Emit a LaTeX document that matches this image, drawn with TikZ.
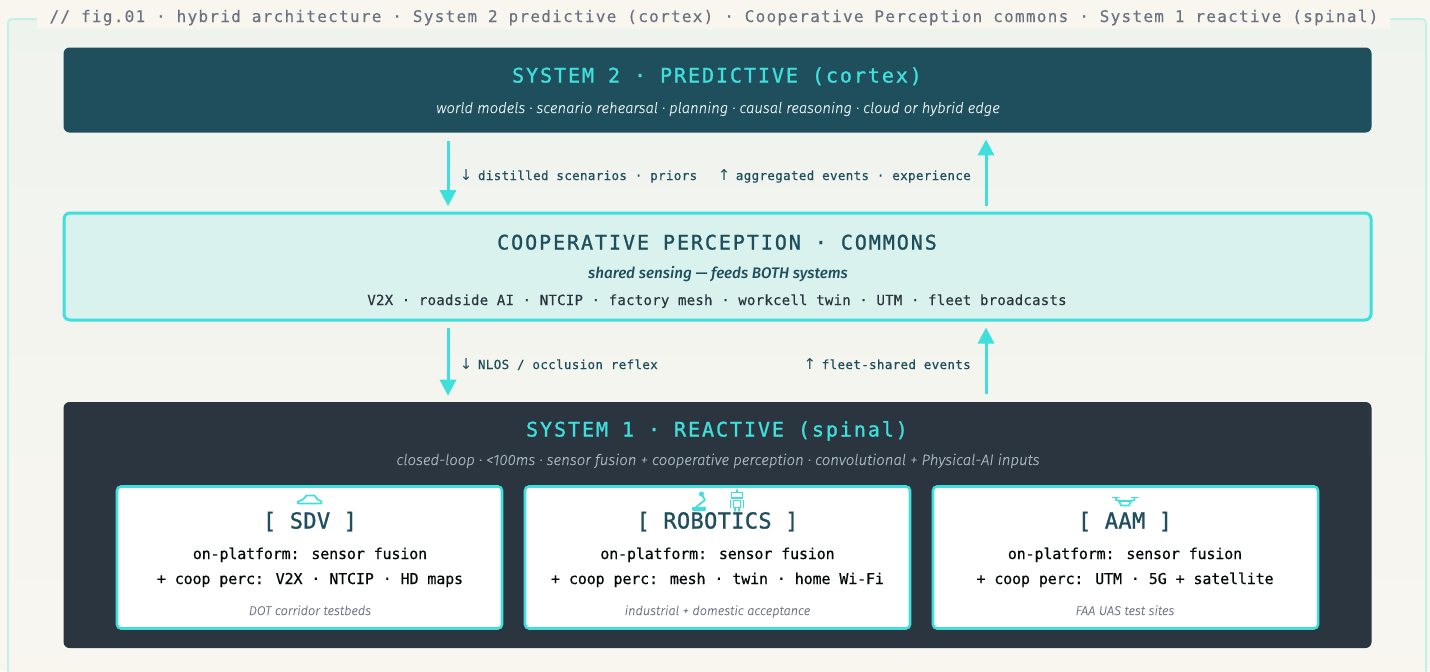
\documentclass[tikz,border=0pt]{standalone}
\usepackage{fontspec}
\usetikzlibrary{arrows.meta,calc}
\setmainfont{Fira Sans}
\newfontfamily\ftitle[LetterSpace=8.0,FakeBold=0.25]{DejaVu Sans Mono}
\newfontfamily\fhead[LetterSpace=9.7,FakeBold=1.2]{DejaVu Sans Mono}
\newfontfamily\fcard[LetterSpace=1.5,FakeBold=1.2]{DejaVu Sans Mono}
\newfontfamily\fbody[LetterSpace=1.85,FakeBold=0.45]{DejaVu Sans Mono}
\newfontfamily\flab[LetterSpace=2.8,FakeBold=0.45]{DejaVu Sans Mono}
\newfontfamily\fcb[LetterSpace=-1,FakeBold=0.5]{DejaVu Sans Mono}
\newfontfamily\farr{DejaVu Sans}
\newfontfamily\fit[FakeBold=0.15]{Fira Sans Light Italic}
\newfontfamily\fitb{Fira Sans Medium Italic}
\definecolor{cyanx}{HTML}{3FE0DC}
\definecolor{navy}{HTML}{1F4E5C}
\definecolor{slatex}{HTML}{2A3540}
\definecolor{mintx}{HTML}{D9F2EE}
\definecolor{creamx}{HTML}{F9F6F0}
\definecolor{frametop}{HTML}{EFF3EE}
\definecolor{framelin}{HTML}{C4F0EC}
\definecolor{greyt}{HTML}{6B7280}
\definecolor{paleit}{HTML}{E6F2F2}
\definecolor{dimit}{HTML}{A9B8C0}
\definecolor{cardit}{HTML}{6B7280}
\newdimen\px \px=0.75pt
\newcommand{\fs}[1]{\fontsize{#1\px}{#1\px}\selectfont}
\newcommand{\arr}[1]{\makebox[7.87\px][c]{\farr\fs{15}#1}}
\tikzset{
  x=0.75pt,y=-0.75pt,
  panel/.style={draw=none,rounded corners=4.5pt,inner sep=0pt,minimum width=981pt},
  card/.style={draw=cyanx,line width=1.9pt,fill=white,rounded corners=3pt,inner sep=0pt,minimum width=288.75pt,minimum height=106.5pt},
  txt/.style={inner sep=0pt,anchor=base},
  flow/.style={draw=cyanx,line width=2.25pt,-{Triangle[length=12pt,width=12pt]}},
  icon/.style={draw=cyanx,line width=1.3pt,line join=round,line cap=round},
}
\begin{document}
\begin{tikzpicture}
\useasboundingbox (0,0) rectangle (1430,671);
\fill[creamx] (0,0) rectangle (1430,671);
% outer frame
\shade[top color=frametop,bottom color=creamx,draw=framelin,line width=1.5pt,rounded corners=3pt] (8,19) rectangle (1426,690);
\fill[creamx] (37,0) rectangle (1390,29);
\node[txt,text=greyt] (title) at (714,22) {\ftitle\fs{16}// fig.01 · hybrid architecture · System 2 predictive (cortex) · Cooperative Perception commons · System 1 reactive (spinal)};
% panels
\node[panel,fill=navy,minimum height=63.75pt] (sys2) at (717.5,90) {};
\node[panel,draw=cyanx,line width=2.25pt,fill=mintx,minimum width=980.25pt,minimum height=80.25pt] (commons) at (717.5,266.5) {};
\node[panel,fill=slatex,minimum height=184.5pt] (sys1) at (717.5,525) {};
% guides for connectors
\coordinate (xl) at (448,0);
\coordinate (xr) at (986,0);
\draw[flow,shorten <=6pt,shorten >=4pt] (sys2.south -| xl) -- (commons.north -| xl);
\draw[flow,shorten <=4.5pt,shorten >=5pt] (commons.north -| xr) -- (sys2.south -| xr);
\draw[flow,shorten <=5pt,shorten >=4.5pt] (commons.south -| xl) -- (sys1.north -| xl);
\draw[flow,shorten <=6pt,shorten >=4.5pt] (sys1.north -| xr) -- (commons.south -| xr);
% system 2 text
\node[txt,text=cyanx] (s2t) at (717,82.5) {\fhead\fs{20}SYSTEM 2 · PREDICTIVE (cortex)};
\node[txt,text=paleit] (s2s) at (718,113) {\fit\fs{14.8}world models · scenario rehearsal · planning · causal reasoning · cloud or hybrid edge};
% labels
\node[txt,anchor=base west,text=navy] (l1) at (462,180) {\arr{↓}\flab\fs{12.5} distilled scenarios · priors};
\node[txt,anchor=base east,text=navy] (l2) at (971,180) {\arr{↑}\flab\fs{12.5} aggregated events · experience};
\node[txt,anchor=base west,text=navy] (l3) at (462,369) {\arr{↓}\flab\fs{12.5} NLOS / occlusion reflex};
\node[txt,anchor=base east,text=navy] (l4) at (971,369) {\arr{↑}\flab\fs{12.5} fleet-shared events};
% commons text
\node[txt,text=navy] (ct) at (717,249.5) {\fhead\fs{20}COOPERATIVE PERCEPTION · COMMONS};
\node[txt,text=navy] (cs) at (718,278) {\fitb\fs{15.3}shared sensing — feeds BOTH systems};
\node[txt,text=slatex] (cb) at (717,305) {\fbody\fs{14}V2X · roadside AI · NTCIP · factory mesh · workcell twin · UTM · fleet broadcasts};
% system 1 text
\node[txt,text=cyanx] (s1t) at (717,436.5) {\fhead\fs{20}SYSTEM 1 · REACTIVE (spinal)};
\node[txt,text=dimit] (s1s) at (718,465) {\fit\fs{14.95}closed-loop · <100ms · sensor fusion + cooperative perception · convolutional + Physical-AI inputs};
% cards
\node[card] (c1) at (309.5,557.5) {};
\node[card] (c2) at (717.5,557.5) {};
\node[card] (c3) at (1125.5,557.5) {};
\foreach \n/\cx/\tt/\ll/\ft in {
  a/310/{[ SDV ]}/{+ coop perc: V2X · NTCIP · HD maps}/{DOT corridor testbeds},
  b/717.5/{[ ROBOTICS ]}/{+ coop perc: mesh · twin · home Wi-Fi}/{industrial + domestic acceptance},
  c/1125/{[ AAM ]}/{+ coop perc: UTM · 5G + satellite}/{FAA UAS test sites}}{
  \node[txt,text=navy] (\n1) at (\cx,528.5) {\fcard\fs{22}\tt};
  \node[txt,text=black!90!navy] (\n2) at (\cx,559) {\fcb\fs{15}on-platform: sensor fusion};
  \node[txt,text=black!90!navy] (\n3) at (\cx,584) {\fcb\fs{15}\ll};
  \node[txt,text=cardit] (\n4) at (\cx,615) {\fit\fs{12.7}\ft};
}
% icon: car
\draw[icon] (298,503.5) -- (298,501.5) -- (303,499.5) -- (306.5,495.5) -- (314.5,495.5) -- (317.5,499.5) -- (321.5,501.5) -- (321.5,503.5) -- cycle;
% icon: robot arm
\draw[icon,fill=cyanx] (693,507.5) rectangle (705,510);
\draw[icon] (696,507) -- (705,500) -- (701.5,494);
\fill[cyanx] (701.5,494) circle (1.9pt);
% icon: robot
\draw[icon] (731.5,492.5) rectangle (742.5,498);
\draw[icon] (737,490) -- (737,492);
\draw[icon] (733.5,500.5) rectangle (740.5,507.5);
\draw[icon] (730.5,500.5) -- (730.5,507.5);
\draw[icon] (743.5,500.5) -- (743.5,507.5);
\draw[icon] (735,508) -- (735,511);
\draw[icon] (739,508) -- (739,511);
% icon: drone
\draw[icon] (1112.5,497.5) -- (1119,497.5);
\draw[icon] (1131.5,497.5) -- (1138,497.5);
\draw[icon] (1116,497.5) -- (1116,500) -- (1120,501);
\draw[icon] (1134.5,497.5) -- (1134.5,500) -- (1130,501);
\draw[icon] (1119,501) -- (1131,501) -- (1129,505.5) -- (1121,505.5) -- cycle;
\end{tikzpicture}
\end{document}
